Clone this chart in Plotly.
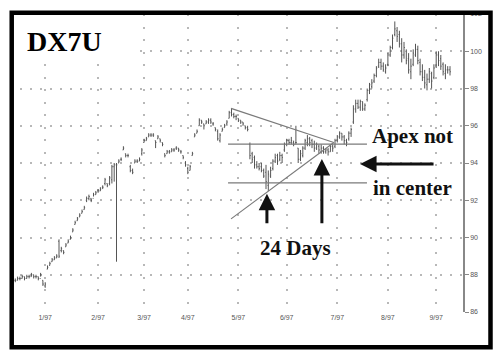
import plotly.graph_objects as go

# ---- data (DX7U daily bars, Dec 1996 - Sep 1997) ----
high = [87.9,87.8,87.9,87.9,88.0,87.9,88.0,88.0,88.1,88.0,88.0,87.9,88.1,87.7,87.6,
        88.5,88.7,88.9,89.0,89.1,89.9,89.5,89.3,89.7,89.9,90.1,90.5,90.9,91.1,91.3,
        91.5,91.7,92.2,92.3,92.1,92.4,92.5,92.6,92.7,92.8,93.2,92.9,93.3,93.9,94.0,
        94.0,94.2,94.3,94.9,94.5,94.5,93.9,93.7,94.2,94.2,94.3,94.8,95.3,95.4,95.6,
        95.6,95.6,95.2,95.5,95.3,95.1,94.5,94.7,94.7,94.8,94.8,94.9,94.8,94.7,94.4,
        94.1,93.8,93.9,94.6,95.6,95.8,96.4,96.3,96.1,96.3,96.4,96.4,96.2,95.9,95.8,
        95.6,95.9,96.1,96.3,96.8,96.95,96.7,96.6,96.4,96.3,96.2,96.0,96.0,95.1,94.6,
        94.4,94.1,94.0,94.0,93.7,93.9,93.6,93.8,94.2,94.5,94.5,94.6,94.5,95.1,95.3,
        95.3,95.4,95.2,96.0,94.8,94.7,94.9,95.3,95.5,95.4,95.3,95.2,95.1,95.0,95.0,
        94.9,94.8,94.8,95.0,95.0,95.3,95.5,95.7,95.6,95.5,95.3,95.7,95.9,97.1,97.4,
        97.4,97.4,97.3,97.2,98.0,98.3,98.5,98.8,99.2,99.6,99.6,99.4,99.3,99.9,100.3,
        100.9,101.6,101.3,101.1,100.7,100.5,100.1,99.9,99.6,100.1,100.4,100.3,99.6,99.3,99.0,
        98.8,99.1,98.9,99.3,100.0,100.0,99.8,99.4,99.3,99.2,99.2]
low = [87.5,87.6,87.7,87.7,87.8,87.7,87.8,87.8,87.9,87.8,87.8,87.7,87.9,87.4,87.3,
       88.3,88.5,88.7,88.8,88.9,88.9,89.2,89.1,89.5,89.7,89.9,90.3,90.7,90.9,91.1,
       91.3,91.5,91.9,92.0,91.9,92.2,92.3,92.4,92.5,92.6,92.8,92.7,92.8,92.9,93.0,
       88.7,94.0,94.1,94.7,94.3,94.3,93.5,93.4,94.0,94.0,94.1,94.4,95.1,95.2,95.4,
       95.4,95.4,94.8,95.3,95.1,94.9,94.3,94.5,94.5,94.6,94.6,94.7,94.6,94.5,94.2,
       93.8,93.4,93.6,94.4,95.4,95.6,96.0,96.1,95.8,96.1,96.1,96.1,96.0,95.7,95.2,
       95.1,95.7,95.9,96.0,96.4,96.5,96.4,96.3,96.2,96.1,96.0,95.8,95.7,94.2,94.0,
       93.7,93.7,93.6,93.5,93.2,92.6,92.5,93.2,93.6,94.0,93.9,94.1,94.0,94.6,94.9,
       95.0,95.0,94.9,95.0,94.0,94.1,94.3,94.7,94.9,94.9,94.8,94.6,94.7,94.5,94.5,
       94.5,94.5,94.4,94.6,94.6,94.8,95.1,95.3,95.2,95.0,94.9,95.2,95.4,96.1,96.7,
       96.9,96.8,96.8,96.8,97.3,97.7,98.0,98.3,98.6,99.1,99.0,98.9,98.8,99.2,99.7,
       100.1,100.8,100.5,100.2,99.4,99.6,99.3,98.8,98.5,99.2,99.7,99.3,98.7,98.4,98.0,
       97.9,98.3,98.0,98.5,99.1,99.2,99.0,98.7,98.5,98.8,98.7]
close = [87.7,87.7,87.8,87.8,87.9,87.8,87.9,87.9,88.0,87.9,87.9,87.8,88.0,87.5,87.5,
         88.4,88.6,88.8,88.9,89.0,89.0,89.4,89.2,89.6,89.8,90.0,90.4,90.8,91.0,91.2,
         91.4,91.6,92.1,92.2,92.0,92.3,92.4,92.5,92.6,92.7,93.1,92.8,93.2,93.8,93.9,
         93.9,94.1,94.2,94.8,94.4,94.4,93.6,93.5,94.1,94.1,94.2,94.7,95.2,95.3,95.5,
         95.5,95.5,95.1,95.4,95.2,95.0,94.4,94.6,94.6,94.7,94.7,94.8,94.7,94.6,94.3,
         93.9,93.5,93.8,94.5,95.5,95.7,96.3,96.2,96.0,96.2,96.3,96.2,96.1,95.8,95.3,
         95.5,95.8,96.0,96.2,96.7,96.6,96.5,96.5,96.3,96.2,96.1,95.9,95.8,94.4,94.2,
         93.9,93.8,93.7,93.6,93.3,93.0,93.4,93.6,94.1,94.3,94.1,94.4,94.3,95.0,95.2,
         95.1,95.2,95.0,95.1,94.2,94.5,94.8,95.2,95.3,95.1,95.0,94.8,95.0,94.7,94.8,
         94.6,94.7,94.6,94.9,94.8,95.2,95.4,95.6,95.4,95.2,95.1,95.6,95.8,96.9,97.2,
         97.0,97.3,96.9,97.1,97.9,98.2,98.3,98.7,99.1,99.4,99.2,99.0,99.1,99.8,100.2,
         100.7,101.2,100.8,100.4,99.8,100.2,99.5,99.0,99.2,99.9,100.1,99.5,98.9,98.6,98.3,
         98.5,98.9,98.4,99.1,99.8,99.5,99.2,98.9,99.0,99.0,98.9]
open_ = [87.6,87.7,87.7,87.8,87.8,87.9,87.8,87.9,87.9,88.0,87.9,87.9,87.8,87.7,87.4,
         88.3,88.5,88.7,88.8,88.9,89.8,89.3,89.3,89.5,89.7,89.9,90.3,90.7,90.9,91.1,
         91.3,91.5,92.0,92.1,92.1,92.1,92.3,92.5,92.5,92.7,92.9,92.9,92.9,93.1,93.8,
         93.9,94.0,94.2,94.7,94.5,94.4,93.8,93.6,94.0,94.1,94.1,94.5,95.1,95.2,95.4,
         95.5,95.5,95.2,95.3,95.3,95.1,94.5,94.5,94.6,94.6,94.7,94.8,94.8,94.6,94.4,
         94.0,93.7,93.6,94.4,95.4,95.6,96.0,96.3,96.1,96.1,96.2,96.3,96.1,95.9,95.7,
         95.2,95.7,95.9,96.1,96.4,96.7,96.6,96.5,96.4,96.3,96.2,96.0,95.9,95.0,94.5,
         94.3,93.9,93.8,93.8,93.6,93.5,92.8,93.3,93.7,94.1,94.4,94.2,94.4,94.7,95.0,
         95.2,95.1,95.1,95.1,94.8,94.2,94.4,94.8,95.1,95.3,95.2,95.0,94.8,94.9,94.6,
         94.8,94.6,94.7,94.6,94.9,94.9,95.2,95.4,95.6,95.4,95.2,95.3,95.6,96.2,96.9,
         97.2,97.0,97.3,96.9,97.4,97.9,98.1,98.4,98.7,99.2,99.4,99.2,98.9,99.3,99.8,
         100.2,100.9,101.1,100.9,100.4,99.8,100.0,99.6,98.9,99.3,99.8,100.1,99.4,98.9,98.6,
         98.2,98.5,98.8,98.6,99.2,99.8,99.6,99.3,98.8,99.0,99.0]
days = list(range(len(close)))

month_tick_days = [14, 37, 57, 76, 98, 119, 141, 163, 184]
month_labels = ["1/97", "2/97", "3/97", "4/97", "5/97", "6/97", "7/97", "8/97", "9/97"]
price_ticks = [86, 88, 90, 92, 94, 96, 98, 100, 102]

# triangle / range annotation lines (day, price)
tri_top = [(94.8, 96.93), (139.5, 95.1)]
tri_bottom = [(94.8, 91.0), (139.5, 95.1)]
range_hi = [(93.5, 95.01), (153.9, 95.01)]
range_lo = [(93.5, 92.93), (153.9, 92.93)]

fig = go.Figure()
fig.add_trace(go.Ohlc(
    x=days, open=open_, high=high, low=low, close=close,
    increasing=dict(line=dict(color="#555555", width=1)),
    decreasing=dict(line=dict(color="#555555", width=1)),
    tickwidth=0.35, showlegend=False, hoverinfo="skip"))

line_col = "#7a7a7a"
for seg in (tri_top, tri_bottom, range_hi, range_lo):
    fig.add_shape(type="line", xref="x", yref="y",
                  x0=seg[0][0], y0=seg[0][1], x1=seg[1][0], y1=seg[1][1],
                  line=dict(color=line_col, width=1.2), layer="above")

# white box behind the title (covers the grid as in the original)
fig.add_shape(type="rect", xref="paper", yref="paper", x0=0.005, x1=0.28, y0=0.835, y1=1.0,
              fillcolor="white", line=dict(width=0), layer="above")

# thick outer frame
fig.add_shape(type="rect", xref="paper", yref="paper",
              x0=0.0038, x1=1.0607, y0=-0.1183, y1=1.0043,
              line=dict(color="black", width=4.5), layer="above")

serif = "Liberation Serif, Times New Roman, serif"
fig.add_annotation(x=22.2, y=100.5, text="<b>DX7U</b>", showarrow=False,
                   font=dict(family=serif, size=28, color="black"))
fig.add_annotation(x=173.5, y=95.44, text="<b>Apex not</b>", showarrow=False,
                   font=dict(family=serif, size=21, color="#111"))
fig.add_annotation(x=173.5, y=92.67, text="<b>in center</b>", showarrow=False,
                   font=dict(family=serif, size=21, color="#111"))
fig.add_annotation(x=123.0, y=89.41, text="<b>24 Days</b>", showarrow=False,
                   font=dict(family=serif, size=21, color="#111"))

arrows = [((150.9, 93.95), (183.5, 93.95)),
          ((110.4, 92.35), (110.4, 90.69)),
          ((134.3, 94.21), (134.3, 90.69))]
for tip, tail in arrows:
    fig.add_annotation(x=tip[0], y=tip[1], ax=tail[0], ay=tail[1],
                       xref="x", yref="y", axref="x", ayref="y", text="",
                       showarrow=True, arrowhead=2, arrowsize=1.1, arrowwidth=3,
                       arrowcolor="#111")

# the page body has an 8px default margin, so the figure is shifted up/left by 8px
fig.update_layout(
    width=504, height=360,
    margin=dict(l=2, r=49, t=4, b=56),
    paper_bgcolor="white", plot_bgcolor="white",
    showlegend=False,
    xaxis=dict(range=[-1.304, 195.65], rangeslider=dict(visible=False),
               tickmode="array", tickvals=month_tick_days, ticktext=month_labels,
               showgrid=True, gridcolor="#b8b8b8", gridwidth=2, griddash="2px,10.5px",
               showline=False, zeroline=False, ticks="",
               tickfont=dict(family="Liberation Sans, Arial", size=7, color="#555")),
    yaxis=dict(range=[86, 102], side="right", tickmode="array", tickvals=price_ticks,
               showgrid=True, gridcolor="#b8b8b8", gridwidth=2, griddash="2px,8px",
               showline=True, linecolor="#888", linewidth=1.5, zeroline=False,
               ticks="outside", ticklen=4, tickcolor="#888",
               tickfont=dict(family="Liberation Sans, Arial", size=7, color="#555")),
)

fig.write_html("out.html")
